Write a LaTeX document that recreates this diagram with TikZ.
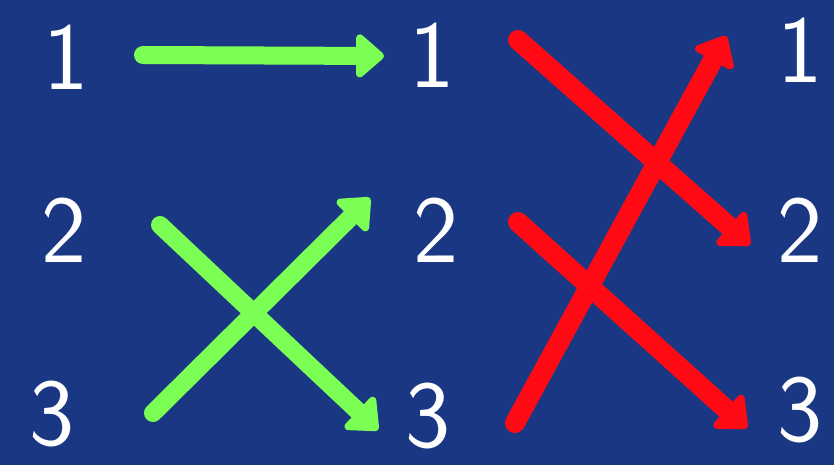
\documentclass[tikz,border=0pt]{standalone}
\usetikzlibrary{arrows.meta}
\definecolor{bgblue}{HTML}{1A3784}
\definecolor{gr}{HTML}{7CFF55}
\definecolor{rd}{HTML}{FF0A14}
\begin{document}
\begin{tikzpicture}[x=1pt,y=-1pt,
  num/.style={text=white,font=\sffamily\fontsize{96}{96}\selectfont,inner sep=0pt},
  arr/.style={line width=18pt,line cap=round,-{Triangle[round,length=30pt,width=50pt]}},
  garr/.style={arr,draw=gr,fill=gr},
  rarr/.style={arr,draw=rd,fill=rd,line width=20pt}]
\fill[bgblue] (0,0) rectangle (834,465);
\useasboundingbox (0,0) rectangle (834,465);
% labels
\node[num] (a1) at (66,57) {1};
\node[num] (a2) at (64,230) {2};
\node[num] (a3) at (52,414) {3};
\node[num] (b1) at (432,55) {1};
\node[num] (b2) at (436,230) {2};
\node[num] (b3) at (428,416) {3};
\node[num] (c1) at (800,50) {1};
\node[num] (c2) at (800,230) {2};
\node[num] (c3) at (800,410) {3};
% arrow endpoints
\coordinate (g1s) at (143,55);
\coordinate (g1e) at (384,56);
\coordinate (g2s) at (160,225);
\coordinate (g2e) at (378,430);
\coordinate (g3s) at (153,413);
\coordinate (g3e) at (370,198);
\coordinate (r1s) at (518,40);
\coordinate (r1e) at (750,245);
\coordinate (r2s) at (518,222);
\coordinate (r2e) at (747,428);
\coordinate (r3s) at (515,423);
\coordinate (r3e) at (726,36);
\draw[garr] (g1s) -- (g1e);
\draw[garr] (g2s) -- (g2e);
\draw[garr] (g3s) -- (g3e);
\draw[rarr] (r1s) -- (r1e);
\draw[rarr] (r2s) -- (r2e);
\draw[rarr] (r3s) -- (r3e);
\end{tikzpicture}
\end{document}
